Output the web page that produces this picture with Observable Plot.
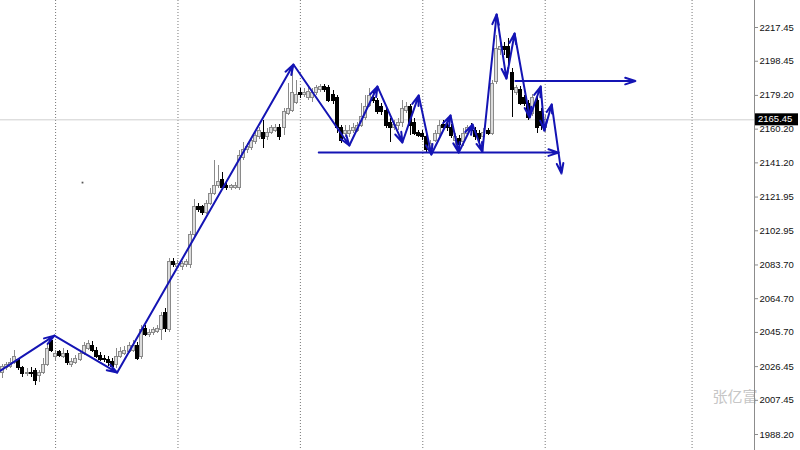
<!DOCTYPE html>
<html><head><meta charset="utf-8">
<script src="https://cdn.jsdelivr.net/npm/d3@7"></script>
<script src="https://cdn.jsdelivr.net/npm/@observablehq/plot@0.6"></script>
<style>body{margin:0;background:#fff;} #chart{width:800px;height:450px;}</style>
</head><body><div id="chart"></div>
<script>
const opens = [2023.1,2025.4,2026.5,2028.7,2029.9,2025.4,2022.0,2023.1,2024.2,2020.9,2023.1,2027.1,2041.1,
2031.6,2034.4,2032.1,2033.3,2027.1,2028.7,2030.4,2033.8,2036.6,2038.3,2035.5,2032.7,2031.0,2030.4,2029.3,2027.1,
2032.1,2033.8,2034.9,2035.5,2038.3,2031.6,2047.9,2044.0,2045.1,2046.2,2046.8,2056.9,2046.8,2085.6,2082.8,
2082.3,2083.4,2083.4,2100.8,2116.6,2116.1,2113.2,2118.3,2123.9,2127.9,2131.3,2128.4,2126.8,2126.8,2126.8,2144.2,2148.2,2149.3,2152.7,2155.5,2158.3,2155.5,2158.3,2159.4,2161.1,2161.1,2169.0,2170.7,2175.2,
2180.8,2179.2,2178.0,2178.0,2180.3,2182.0,2183.7,2183.1,2179.7,2177.5,2160.6,2157.2,2157.7,2158.9,2159.4,2162.2,2166.2,2173.5,2178.0,2175.8,2172.9,2170.7,2163.9,2160.6,2161.7,2163.4,2170.7,2172.4,2163.9,2158.3,2157.7,
2156.0,2148.2,2153.8,2157.2,2162.8,2161.7,2160.6,2153.8,2154.9,2152.7,2157.2,2161.1,2159.4,2157.2,2156.0,2158.9,2157.7,2186.5,2204.5,2206.2,2206.2,2192.1,2180.8,2182.0,2177.5,2174.6,2169.0,2176.3,2169.6,2160.6];
const highs = [2027.6,2028.7,2031.0,2035.5,2031.0,2026.5,2025.4,2026.0,2025.4,2024.2,2031.0,2038.9,2043.4,
2035.5,2035.5,2036.6,2035.5,2031.0,2032.7,2035.5,2040.0,2041.1,2040.6,2037.2,2034.4,2032.7,2032.1,2031.0,2036.6,
2037.2,2037.8,2040.0,2041.1,2040.0,2049.6,2049.6,2047.3,2048.5,2049.6,2056.9,2059.2,2087.3,2087.3,2086.2,
2085.6,2086.8,2102.5,2120.6,2118.3,2117.2,2120.0,2126.8,2142.5,2139.7,2135.8,2129.6,2129.0,2130.1,2148.2,2152.7,2152.1,2155.5,2158.3,2161.1,2165.1,2160.6,2162.2,2162.8,2162.8,2171.8,2185.9,2194.4,2187.6,
2183.1,2183.1,2183.7,2183.1,2184.8,2185.4,2185.4,2184.8,2182.0,2179.2,2162.2,2162.2,2162.2,2163.4,2163.9,2174.6,2179.2,2183.1,2180.8,2177.5,2174.6,2172.4,2166.2,2165.1,2166.2,2176.3,2175.2,2174.1,2166.2,2159.4,2159.4,
2157.7,2153.8,2159.4,2165.1,2165.1,2163.9,2162.8,2157.7,2156.6,2160.6,2162.2,2163.4,2161.1,2159.4,2160.6,2160.6,2187.6,2212.9,2210.1,2209.0,2211.2,2194.4,2184.8,2184.2,2179.2,2176.3,2179.7,2178.0,2171.8,2167.9];
const lows = [2019.7,2024.2,2025.4,2027.6,2024.2,2020.3,2020.9,2020.3,2015.8,2017.5,2022.0,2026.5,2034.4,
2029.9,2031.6,2031.0,2027.1,2025.9,2027.6,2029.3,2032.7,2035.5,2034.4,2031.0,2029.3,2028.7,2026.5,2025.4,2025.4,
2031.0,2032.7,2033.8,2034.4,2029.9,2030.4,2043.4,2042.8,2044.0,2045.1,2041.1,2045.6,2045.6,2082.3,2081.7,
2080.6,2082.3,2081.7,2099.7,2113.2,2111.6,2112.1,2117.2,2122.8,2126.8,2126.2,2125.6,2125.6,2126.2,2125.6,2142.5,2146.5,2148.2,2151.6,2154.4,2149.3,2153.8,2157.2,2158.3,2153.8,2156.6,2167.9,2169.6,2174.1,
2177.5,2178.0,2176.3,2175.2,2179.2,2180.8,2180.8,2175.2,2174.1,2157.7,2152.1,2155.5,2155.5,2157.7,2158.3,2161.1,2165.1,2172.4,2174.6,2168.4,2167.9,2160.6,2152.7,2159.4,2159.4,2161.1,2169.0,2156.6,2156.6,2155.5,2153.8,
2147.0,2146.5,2152.7,2156.0,2159.4,2158.9,2154.9,2149.3,2148.2,2150.4,2156.0,2158.3,2153.8,2150.4,2153.8,2156.6,2156.6,2185.4,2201.7,2201.7,2193.2,2166.8,2179.2,2173.5,2173.0,2165.1,2167.3,2157.7,2159.4,2158.3];
const closes = [2026.5,2027.1,2028.7,2032.1,2025.4,2022.5,2023.1,2022.0,2018.6,2023.1,2027.6,2036.6,2035.5,
2033.8,2032.7,2033.8,2028.2,2029.3,2031.0,2033.3,2037.8,2038.9,2035.5,2032.1,2030.4,2029.9,2028.2,2026.5,2032.1,
2034.4,2035.5,2037.8,2038.3,2031.0,2047.3,2044.5,2045.6,2046.8,2047.9,2055.2,2047.9,2085.1,2083.4,2084.5,
2084.0,2085.1,2100.8,2116.1,2114.4,2112.7,2118.3,2123.9,2128.4,2130.7,2127.3,2126.8,2127.9,2128.4,2144.8,2148.2,2149.9,2153.8,2156.6,2159.4,2154.9,2158.3,2160.6,2161.1,2155.5,2169.6,2171.8,2180.3,2179.2,
2179.2,2180.8,2181.4,2180.3,2183.1,2183.7,2182.0,2176.3,2176.3,2160.6,2153.8,2158.9,2159.4,2161.1,2161.7,2167.3,2172.9,2178.6,2175.8,2169.6,2169.6,2162.2,2160.6,2162.8,2163.4,2171.8,2172.9,2162.2,2157.7,2156.6,2156.0,
2148.2,2152.1,2157.2,2162.2,2161.1,2160.6,2156.6,2156.0,2151.0,2157.7,2160.6,2159.4,2156.0,2154.9,2158.3,2157.7,2185.9,2205.6,2206.2,2204.5,2200.0,2182.0,2183.1,2174.6,2174.1,2166.2,2178.0,2160.6,2162.2,2165.45];

const yTicks = [2217.45,2198.45,2179.20,2160.20,2141.20,2121.95,2102.95,2083.70,2064.70,2045.70,2026.45,2007.45,1988.20];
const gridBars = [13, 43, 73, 103, 133, 169];
const zigBar = [-0.5, 12.7, 28.1, 71.3, 85.0, 91.9, 98.0, 102.0, 105.1, 109.8, 111.8, 115.2, 117.6, 121.1, 123.5, 125.5, 129.2, 131.9, 132.8, 134.6, 137.0];
const zigPrice = [2024.2, 2043.9, 2023.1, 2196.6, 2151.0, 2184.2, 2152.7, 2179.2, 2145.9, 2167.9, 2147.0, 2162.8, 2147.6, 2224.8, 2188.7, 2214.1, 2166.8, 2184.2, 2159.4, 2174.1, 2135.2];
const levelStart = [77.5, 125.7];
const levelEnd = [136.3, 155.1];
const levelPrice = [2147.0, 2187.3];
const lastPrice = 2165.45;
const markBar = [19.6];
const markPrice = [2130.1];
const watermark = "张亿富";
const xDomain = [-0.5, 184.3];
const yDomain = [1979.19, 2232.66];

const candles = opens.map((o, i) => ({i, open: o, high: highs[i], low: lows[i], close: closes[i], up: closes[i] >= o}));
const zigSegs = zigBar.slice(1).map((b, k) => ({x1: zigBar[k], y1: zigPrice[k], x2: b, y2: zigPrice[k + 1]}));
const levels = levelPrice.map((p, k) => ({x1: levelStart[k], x2: levelEnd[k], y: p}));
const blue = "#1414b4";

const chart = Plot.plot({
  width: 800, height: 450,
  marginLeft: 0, marginRight: 46, marginTop: 0, marginBottom: 0,
  style: {fontFamily: "'Liberation Sans', Arial, sans-serif", background: "#fff"},
  x: {domain: xDomain, axis: null},
  y: {domain: yDomain, axis: null},
  marks: [
    Plot.ruleX(gridBars, {stroke: "#777", strokeDasharray: "1,2", strokeOpacity: 1}),
    Plot.ruleY([lastPrice], {stroke: "#cfcfcf"}),
    Plot.ruleX(candles, {x: "i", y1: "low", y2: "high", stroke: d => d.up ? "#8a8a8a" : "#000", shapeRendering: "crispEdges"}),
    Plot.rect(candles, {x1: d => d.i - 0.37, x2: d => d.i + 0.37, y1: "open", y2: "close",
      fill: d => d.up ? "#dcdcdc" : "#000", stroke: d => d.up ? "#8a8a8a" : "#000", shapeRendering: "crispEdges"}),
    Plot.dot(markBar.map((b, k) => ({b, p: markPrice[k]})), {x: "b", y: "p", r: 1, symbol: "square", fill: "#555"}),
    Plot.arrow(zigSegs, {x1: "x1", y1: "y1", x2: "x2", y2: "y2", stroke: blue, strokeWidth: 2, headLength: 8, headAngle: 36}),
    Plot.arrow(levels, {x1: "x1", y1: "y", x2: "x2", y2: "y", stroke: blue, strokeWidth: 2, headLength: 8, headAngle: 36}),
    Plot.text([watermark], {frameAnchor: "bottom-right", dx: 3, dy: -49, textAnchor: "end", fill: "#c6c6c6", fontSize: 15, fontFamily: "'Noto Sans CJK SC', sans-serif"}),
    Plot.ruleX([xDomain[1]], {stroke: "#8c8c8c"}),
    Plot.axisY(yTicks, {anchor: "right", tickSize: 3, tickPadding: 2, tickFormat: d => d.toFixed(2), fontSize: 9.5, fill: "#111", stroke: "#8c8c8c"})
  ]
});
document.getElementById("chart").appendChild(chart);

// current price tag on the price axis, positioned with the plot's own scales
const sx = chart.scale("x"), sy = chart.scale("y");
const px = sx.apply(xDomain[1]), py = sy.apply(lastPrice);
const tag = d3.select(chart).append("g");
tag.append("rect").attr("x", px + 1).attr("y", py - 6).attr("width", 800 - px - 3).attr("height", 12).attr("fill", "#000");
tag.append("text").attr("x", px + 4).attr("y", py).attr("dy", "0.32em").attr("fill", "#fff").attr("text-anchor", "start")
  .attr("font-size", 9.5).attr("font-family", "'Liberation Sans', Arial, sans-serif").text(lastPrice.toFixed(2));
</script>
</body></html>
